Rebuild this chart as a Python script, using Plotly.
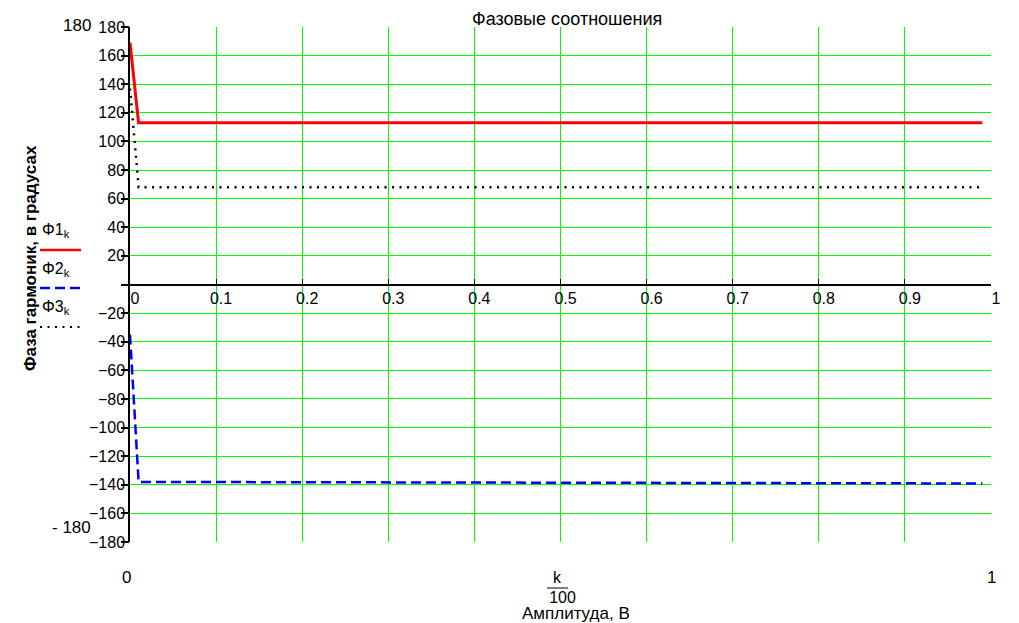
import plotly.graph_objects as go

# ---- data ----
k_vals = [0, 1, 10, 20, 30, 40, 50, 60, 70, 80, 90, 99]
phi1 = [169, 113, 113, 113, 113, 113, 113, 113, 113, 113, 113, 113]
phi2 = [-35, -138.0, -138.1, -138.2, -138.3, -138.4, -138.5, -138.6, -138.8, -138.9, -139.0, -139.1]
phi3 = [137, 68, 68, 68, 68, 68, 68, 68, 68, 68, 68, 68]

x_ticks = [0, 0.1, 0.2, 0.3, 0.4, 0.5, 0.6, 0.7, 0.8, 0.9, 1]
x_ticktext = ["0", "0.1", "0.2", "0.3", "0.4", "0.5", "0.6", "0.7", "0.8", "0.9", "1"]
y_ticks = [180, 160, 140, 120, 100, 80, 60, 40, 20, 0, -20, -40, -60, -80, -100, -120, -140, -160, -180]
y_ticktext = ["180", "160", "140", "120", "100", "80", "60", "40", "20", "",
              "\u221220", "\u221240", "\u221260", "\u221280", "\u2212100", "\u2212120",
              "\u2212140", "\u2212160", "\u2212180"]

title_text = "Фазовые соотношения"
y_title = "<b>Фаза гармоник, в градусах</b>"
x_title = "Амплитуда, В"

x = [k / 100 for k in k_vals]

W, H = 1019, 623
L, R, T, B = 130, 28, 27, 81
PW, PH = W - L - R, H - T - B

def px(xp):
    return (xp - L) / PW

def py(yp):
    return (H - B - yp) / PH

FONT = "Liberation Sans, Arial, sans-serif"
GREEN = "#00ff00"

fig = go.Figure()
fig.add_trace(go.Scatter(x=x, y=phi1, mode="lines", line=dict(color="#ff0000", width=3), showlegend=False))
fig.add_trace(go.Scatter(x=x, y=phi2, mode="lines", line=dict(color="#0000ff", width=2.5, dash="10px,5px"), showlegend=False))
fig.add_trace(go.Scatter(x=x, y=phi3, mode="lines", line=dict(color="#000000", width=2.5, dash="2px,5.5px"), showlegend=False))
# invisible trace so the tick-mark axis is drawn
fig.add_trace(go.Scatter(x=[None], y=[None], yaxis="y2", showlegend=False, hoverinfo="skip"))

fig.update_layout(
    width=W, height=H,
    margin=dict(l=L, r=R, t=T, b=B, pad=0),
    paper_bgcolor="white", plot_bgcolor="white",
    font=dict(family=FONT, size=16, color="black"),
    showlegend=False,
    xaxis=dict(
        range=[0, 1], tickvals=x_ticks, ticktext=x_ticktext,
        showgrid=True, gridcolor=GREEN, gridwidth=1,
        zeroline=False, showline=True, linecolor="black", linewidth=1.5,
        anchor="free", position=0.5, ticks="inside", ticklen=5, tickcolor="black",
        ticklabelshift=5, tickfont=dict(size=16),
    ),
    yaxis=dict(
        range=[-180, 180], tickvals=y_ticks, ticktext=y_ticktext,
        showgrid=True, gridcolor=GREEN, gridwidth=1,
        zeroline=False, showline=True, linecolor="black", linewidth=1.5,
        ticks="", tickfont=dict(size=16),
    ),
    yaxis2=dict(
        range=[-180, 180], tickvals=y_ticks, overlaying="y", side="left",
        showgrid=False, zeroline=False, showline=False, showticklabels=False,
        ticks="outside", ticklen=8, tickcolor="black", tickwidth=1.5,
    ),
)

ann = []
def add(text, xp, yp, size=17, xanchor="center", yanchor="middle", textangle=0):
    ann.append(dict(text=text, x=px(xp), y=py(yp), xref="paper", yref="paper",
                    showarrow=False, xanchor=xanchor, yanchor=yanchor,
                    font=dict(family=FONT, size=size, color="black"), textangle=textangle))

add(title_text, 567, 19, size=18)
add("180", 93, 26, size=17, xanchor="right")
add("- 180", 93, 527, size=17, xanchor="right")
add("0", 126, 577, size=17)
add("1", 991, 577, size=17)
add("k", 557, 577, size=16)
# denominator and axis title share one block with tight line spacing
add('<span style="font-size:16px">100' + "&nbsp;" * 6 + '</span><br>'
    '<span style="font-size:17px">' + x_title + '</span>', 576, 606, size=12)
add(y_title, 30, 258, size=17, textangle=-90)
add("Φ1<sub>k</sub>", 40, 231, size=16, xanchor="left")
add("Φ2<sub>k</sub>", 40, 269, size=16, xanchor="left")
add("Φ3<sub>k</sub>", 40, 307, size=16, xanchor="left")
fig.update_layout(annotations=ann)

shapes = [
    dict(type="line", xref="paper", yref="paper", x0=px(547), x1=px(568), y0=py(588), y1=py(588),
         line=dict(color="black", width=1)),
    dict(type="line", xref="paper", yref="paper", x0=px(40), x1=px(81), y0=py(250), y1=py(250),
         line=dict(color="#ff0000", width=2.5)),
    dict(type="line", xref="paper", yref="paper", x0=px(40), x1=px(81), y0=py(288), y1=py(288),
         line=dict(color="#0000ff", width=2.5, dash="10px,5px")),
    dict(type="line", xref="paper", yref="paper", x0=px(40), x1=px(81), y0=py(327), y1=py(327),
         line=dict(color="black", width=2, dash="2px,5.5px")),
]
fig.update_layout(shapes=shapes)

fig.write_html("out.html", config={"displayModeBar": False},
               post_script="document.body.style.margin='0';document.body.style.overflow='hidden';")
